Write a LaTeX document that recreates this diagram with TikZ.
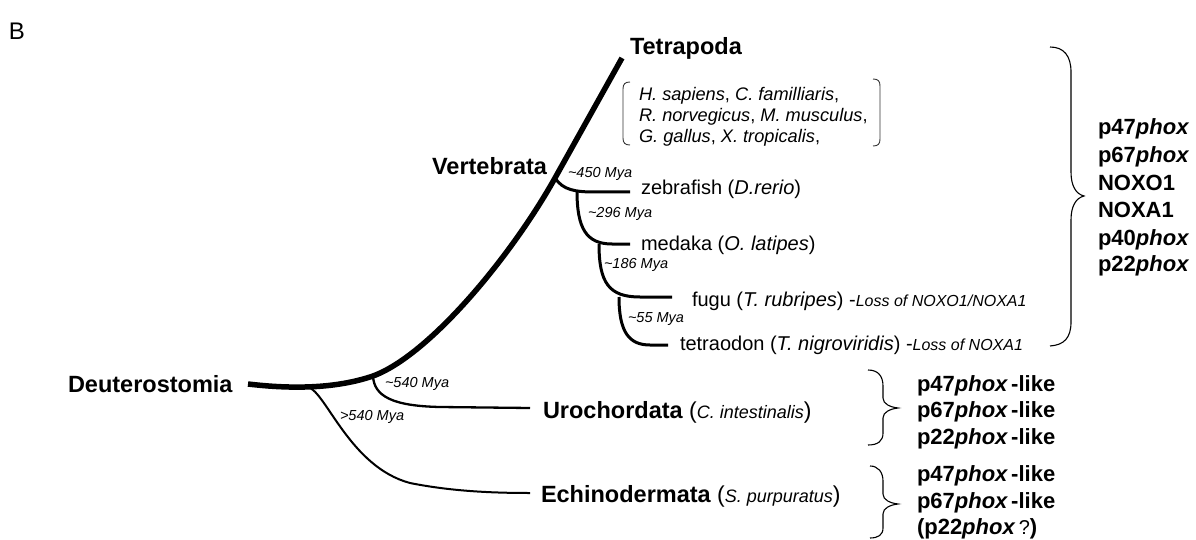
\documentclass[tikz,border=0pt]{standalone}
\usepackage{fontspec}
\setmainfont{Liberation Sans}
\usetikzlibrary{calc}
\newcommand\fBig{\fontsize{23.5}{28}\selectfont\bfseries}
\newcommand\fSp{\fontsize{20}{24}\selectfont}
\newcommand\fList{\fontsize{18.2}{21}\selectfont}
\newcommand\fMya{\fontsize{14.5}{17}\selectfont\itshape}
\newcommand\fLoss{\fontsize{16}{19}\selectfont\itshape}
\newcommand\fGene{\fontsize{22}{27}\selectfont\bfseries}
\newcommand\phx{\textit{phox}}
\begin{document}
\begin{tikzpicture}[x=1pt,y=-1pt,
  lab/.style={inner sep=0pt,outer sep=0pt,anchor=base west},
  trunkline/.style={line width=5.5pt},
  branch/.style={line width=3pt},
  longbranch/.style={line width=2.3pt},
  bracepath/.style={line width=1.1pt},
  bracketpath/.style={line width=0.9pt,draw=black!80}]
\useasboundingbox (0,0) rectangle (1196,540);

% ---- tree coordinates
\coordinate (root) at (248,384);
\coordinate (echN) at (308,387);
\coordinate (uroN) at (373,376);
\coordinate (vertN) at (555,178);
\coordinate (tetTip) at (622,58);
\coordinate (medN) at (577,191);
\coordinate (fugN) at (599,244);
\coordinate (tetN) at (619,297);
\coordinate (zebEnd) at (630,192);
\coordinate (medEnd) at (630,244);
\coordinate (fugEnd) at (672,297);
\coordinate (tetEnd) at (668,345);
\coordinate (uroEnd) at (530,408);
\coordinate (echEnd) at (530,493);

% ---- trunk
\draw[trunkline] (root) .. controls (290,389) and (335,389) .. (uroN)
  .. controls (430,355) and (512,255) .. (vertN) -- (tetTip);

% ---- lower branches
\draw[longbranch] (uroN) .. controls (374,396) and (392,406) .. (440,407) -- (uroEnd);
\draw[line width=2pt] (echN) .. controls (326,392) and (350,467) .. (410,483)
  .. controls (450,491) and (490,493) .. (echEnd);

% ---- vertebrate subtree
\draw[branch] (vertN) .. controls (563,190) and (575,192) .. (595,192) -- (zebEnd);
\draw[branch] (medN) .. controls (577,228) and (586,244) .. (612,244) -- (medEnd);
\draw[branch] (fugN) .. controls (599,283) and (609,297) .. (640,297) -- (fugEnd);
\draw[branch] (tetN) .. controls (619,332) and (629,345) .. (650,345) -- (tetEnd);

% ---- labels
\node[lab] (B) at (9,40) {\fontsize{24}{28}\selectfont B};
\node[lab] (tetra) at (630,55) {\fBig Tetrapoda};
\node[lab,anchor=base east] (vert) at (547,175) {\fBig Vertebrata};
\node[lab] (deut) at (68,392) {\fBig Deuterostomia};
\node[lab] (uro) at (543,418) {\fBig Urochordata\mdseries\fontsize{23}{26}\selectfont\ (\fontsize{18}{20}\selectfont\itshape C. intestinalis\/\upshape\fontsize{23}{26}\selectfont)};
\node[lab] (echi) at (541,502) {\fBig Echinodermata\mdseries\fontsize{23}{26}\selectfont\ (\fontsize{18}{20}\selectfont\itshape S. purpuratus\/\upshape\fontsize{23}{26}\selectfont)};

\node[lab] (l1) at (639,101) {\fList\textit{H. sapiens}, \textit{C. familliaris},};
\node[lab] (l2) at (639,122) {\fList\textit{R. norvegicus}, \textit{M. musculus},};
\node[lab] (l3) at (639,143) {\fList\textit{G. gallus}, \textit{X. tropicalis},};

\node[lab] (zeb) at (641,194) {\fSp zebrafish (\textit{D.rerio})};
\node[lab] (med) at (641,250) {\fSp medaka (\textit{O. latipes})};
\node[lab] (fug) at (692,306) {\fSp fugu (\textit{T. rubripes}) -{\fLoss Loss of NOXO1/NOXA1}};
\node[lab] (tet) at (680,350) {\fSp tetraodon (\textit{T. nigroviridis}) -{\fLoss Loss of NOXA1}};

\node[lab] (m450) at (568,178) {\fMya \textasciitilde450 Mya};
\node[lab] (m296) at (588,218) {\fMya \textasciitilde296 Mya};
\node[lab] (m186) at (604,268) {\fMya \textasciitilde186 Mya};
\node[lab] (m55) at (628,322) {\fMya \textasciitilde55 Mya};
\node[lab] (m540a) at (385,387) {\fMya \textasciitilde540 Mya};
\node[lab] (m540b) at (340,420) {\fMya >540 Mya};

% ---- gene lists
\node[lab] (g1) at (1098,135) {\fGene p47\phx};
\node[lab] (g2) at (1098,163) {\fGene p67\phx};
\node[lab] (g3) at (1098,190) {\fGene NOXO1};
\node[lab] (g4) at (1098,218) {\fGene NOXA1};
\node[lab] (g5) at (1098,245) {\fGene p40\phx};
\node[lab] (g6) at (1098,271) {\fGene p22\phx};

\node[lab] (u1) at (917,391) {\fGene p47\phx\hspace{3pt}-like};
\node[lab] (u2) at (917,417) {\fGene p67\phx\hspace{3pt}-like};
\node[lab] (u3) at (917,444) {\fGene p22\phx\hspace{3pt}-like};
\node[lab] (e1) at (917,481) {\fGene p47\phx\hspace{3pt}-like};
\node[lab] (e2) at (917,508) {\fGene p67\phx\hspace{3pt}-like};
\node[lab] (e3) at (917,534) {\fGene (p22\phx{\mdseries\fontsize{20}{22}\selectfont\,?})};

% ---- braces
\draw[bracepath] (1050,47) .. controls (1064,47) and (1071,56) .. (1071,72) -- (1071,172)
  .. controls (1071,186) and (1076,194) .. (1084,196)
  .. controls (1076,198) and (1071,206) .. (1071,220) -- (1071,322)
  .. controls (1071,338) and (1064,345) .. (1050,346);
\draw[bracepath] (868,370) .. controls (878,370) and (883,376) .. (883,386) -- (883,398)
  .. controls (883,404) and (890,407) .. (898,408)
  .. controls (890,409) and (883,412) .. (883,418) -- (883,433)
  .. controls (883,441) and (878,445) .. (868,445);
\draw[bracepath] (870,466) .. controls (878,466) and (883,472) .. (883,481) -- (883,494)
  .. controls (883,500) and (890,503) .. (898,504)
  .. controls (890,505) and (883,508) .. (883,514) -- (883,528)
  .. controls (883,535) and (878,538) .. (870,538);

% ---- species brackets
\draw[bracketpath] (630,82) .. controls (625,82) and (623,84) .. (623,89) -- (623,138)
  .. controls (623,143) and (625,145) .. (630,145);
\draw[bracketpath] (873,79) .. controls (878,79) and (880,81) .. (880,86) -- (880,139)
  .. controls (880,144) and (878,146) .. (873,146);
\end{tikzpicture}
\end{document}
